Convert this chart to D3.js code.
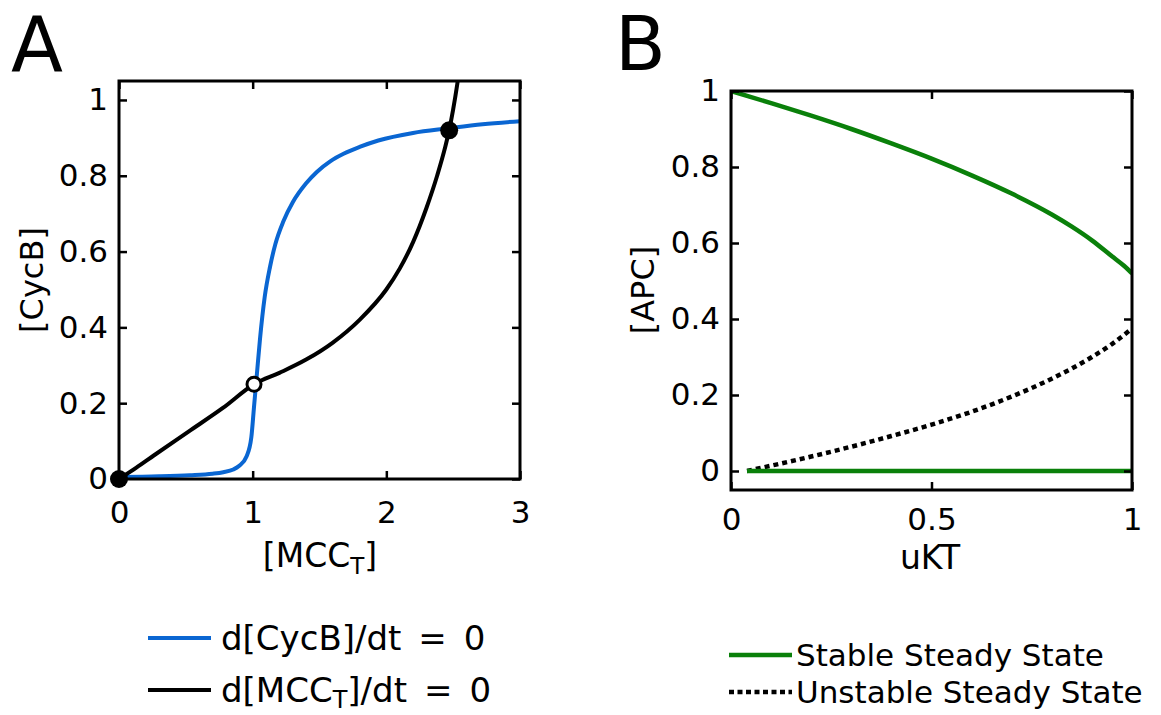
<!DOCTYPE html>
<html>
<head>
<meta charset="utf-8">
<script src="https://cdn.jsdelivr.net/npm/d3@7"></script>
<style>
  html, body { margin: 0; padding: 0; background: #fff; }
  svg { display: block; }
  text { font-family: "DejaVu Sans", sans-serif; fill: #000; }
</style>
</head>
<body>
<svg id="chart" width="1161" height="715"></svg>
<script>
// ---------- Panel A data ----------
const mccBlue = [0, 0.3, 0.53, 0.7, 0.78, 0.855, 0.9, 0.955, 0.99, 1.01, 1.03, 1.055, 1.09, 1.13, 1.17, 1.23, 1.30, 1.40, 1.48, 1.58, 1.68, 1.80, 1.94, 2.2, 2.46, 2.72, 3.0];
const cycBlue = [0.005, 0.007, 0.01, 0.014, 0.018, 0.025, 0.035, 0.06, 0.11, 0.19, 0.27, 0.37, 0.48, 0.56, 0.62, 0.68, 0.73, 0.78, 0.81, 0.838, 0.858, 0.876, 0.893, 0.913, 0.925, 0.936, 0.944];
const mccBlack = [0, 0.13, 0.26, 0.52, 0.78, 1.01, 1.2, 1.4, 1.6, 1.8, 2.0, 2.1, 2.2, 2.3, 2.38, 2.44, 2.47, 2.50, 2.53, 2.55];
const cycBlack = [0, 0.03, 0.062, 0.125, 0.188, 0.25, 0.28, 0.315, 0.36, 0.42, 0.50, 0.555, 0.625, 0.715, 0.80, 0.875, 0.92, 0.975, 1.04, 1.09];
const ssX = [0, 1.01, 2.47];
const ssY = [0, 0.25, 0.92];
const ssStable = [true, false, true];
const xTicksA = [0, 1, 2, 3];
const yTicksA = [0, 0.2, 0.4, 0.6, 0.8, 1];
const legendA = ["d[CycB]/dt\u2002=\u20020", "d[MCC|T]/dt\u2002=\u20020"];

// ---------- Panel B data ----------
const ukStableHi = [0, 0.1, 0.2, 0.3, 0.4, 0.5, 0.6, 0.7, 0.8, 0.85, 0.9, 0.95, 0.98, 1.0];
const apcStableHi = [1.0, 0.968, 0.935, 0.900, 0.862, 0.822, 0.778, 0.730, 0.675, 0.643, 0.607, 0.565, 0.54, 0.52];
const ukStableLo = [0.04, 1.0];
const apcStableLo = [0, 0];
const ukUnstable = [0.04, 0.1, 0.2, 0.3, 0.4, 0.5, 0.6, 0.7, 0.8, 0.9, 0.95, 1.0];
const apcUnstable = [0.0, 0.014, 0.038, 0.064, 0.092, 0.122, 0.156, 0.196, 0.243, 0.30, 0.334, 0.375];
const xTicksB = [0, 0.5, 1];
const yTicksB = [0, 0.2, 0.4, 0.6, 0.8, 1];
const legendB = ["Stable Steady State", "Unstable Steady State"];

const BLUE = "#0a66d2", GREEN = "#0a800a";

const svg = d3.select("#chart");

function frame(g, x, y, xt, yt, fmtX, fmtY, padX) {
  const [x0, x1] = x.range(), [y0, y1] = y.range();
  const fs = "31px";
  const ax = g.append("g").attr("transform", `translate(0,${y0})`)
    .call(d3.axisBottom(x).tickValues(xt).tickSizeInner(-8).tickSizeOuter(0).tickPadding(padX).tickFormat(fmtX));
  const axT = g.append("g").attr("transform", `translate(0,${y1})`)
    .call(d3.axisTop(x).tickValues(xt).tickSizeInner(-8).tickSizeOuter(0).tickFormat(""));
  const ay = g.append("g").attr("transform", `translate(${x0},0)`)
    .call(d3.axisLeft(y).tickValues(yt).tickSizeInner(-8).tickSizeOuter(0).tickPadding(11).tickFormat(fmtY));
  const ayR = g.append("g").attr("transform", `translate(${x1},0)`)
    .call(d3.axisRight(y).tickValues(yt).tickSizeInner(-8).tickSizeOuter(0).tickFormat(""));
  [ax, axT, ay, ayR].forEach(a => {
    a.select(".domain").remove();
    a.selectAll(".tick line").attr("stroke", "#000").attr("stroke-width", 2.5);
    a.selectAll(".tick text").style("font-family", "DejaVu Sans").style("font-size", fs).attr("fill", "#000");
  });
  g.append("rect").attr("x", x0).attr("y", y1).attr("width", x1 - x0).attr("height", y0 - y1)
    .attr("fill", "none").attr("stroke", "#000").attr("stroke-width", 3);
}

const fmtNum = d => d === 0 ? "0" : d3.format("~g")(d);

// ---------- Panel A ----------
const xA = d3.scaleLinear().domain([0, 3]).range([119, 520]);
const yA = d3.scaleLinear().domain([0, 1.05]).range([479, 81]);
const gA = svg.append("g");
svg.append("clipPath").attr("id", "clipA").append("rect")
  .attr("x", 119).attr("y", 81).attr("width", 401).attr("height", 398);

const lineA = d3.line().x(d => xA(d[0])).y(d => yA(d[1])).curve(d3.curveMonotoneX);
gA.append("path").datum(mccBlue.map((v, i) => [v, cycBlue[i]]))
  .attr("d", lineA).attr("fill", "none").attr("stroke", BLUE).attr("stroke-width", 4)
  .attr("clip-path", "url(#clipA)");
gA.append("path").datum(mccBlack.map((v, i) => [v, cycBlack[i]]))
  .attr("d", lineA).attr("fill", "none").attr("stroke", "#000").attr("stroke-width", 4)
  .attr("clip-path", "url(#clipA)");
frame(gA, xA, yA, xTicksA, yTicksA, fmtNum, fmtNum, 22);
gA.selectAll("circle.ss").data(ssX.map((v, i) => ({x: v, y: ssY[i], s: ssStable[i]})))
  .join("circle").attr("class", "ss")
  .attr("cx", d => xA(d.x)).attr("cy", d => yA(d.y))
  .attr("r", d => d.s ? 9 : 7)
  .attr("fill", d => d.s ? "#000" : "#fff")
  .attr("stroke", "#000").attr("stroke-width", d => d.s ? 0 : 3);

// axis titles A
const tA = gA.append("text").attr("x", 320).attr("y", 567).attr("text-anchor", "middle").style("font-size", "33px");
tA.append("tspan").text("[MCC");
tA.append("tspan").text("T").style("font-size", "23px").attr("dy", 7);
tA.append("tspan").text("]").attr("dy", -7);
gA.append("text").attr("transform", "translate(43,280) rotate(-90)").attr("text-anchor", "middle")
  .style("font-size", "32px").text("[CycB]");
svg.append("text").attr("x", 11).attr("y", 71).style("font-size", "76px").text("A");

// legend A
const legAColors = [BLUE, "#000"];
const legAY = [638, 690];
legendA.forEach((lab, i) => {
  svg.append("line").attr("x1", 148).attr("x2", 211).attr("y1", legAY[i]).attr("y2", legAY[i])
    .attr("stroke", legAColors[i]).attr("stroke-width", 4);
  const t = svg.append("text").attr("x", 221).attr("y", legAY[i] + 12).style("font-size", "34px");
  const parts = lab.split("|");
  if (parts.length === 1) {
    t.text(lab);
  } else {
    t.append("tspan").text(parts[0]);
    t.append("tspan").text(parts[1].charAt(0)).style("font-size", "24px").attr("dy", 6);
    t.append("tspan").text(parts[1].slice(1)).attr("dy", -6);
  }
});

// ---------- Panel B ----------
const xB = d3.scaleLinear().domain([0, 1]).range([731, 1132]);
const yB = d3.scaleLinear().domain([-0.05, 1]).range([490, 91]);
const gB = svg.append("g");
svg.append("clipPath").attr("id", "clipB").append("rect")
  .attr("x", 731).attr("y", 91).attr("width", 401).attr("height", 399);
const lineB = d3.line().x(d => xB(d[0])).y(d => yB(d[1])).curve(d3.curveMonotoneX);
gB.append("path").datum(ukUnstable.map((v, i) => [v, apcUnstable[i]]))
  .attr("d", lineB).attr("fill", "none").attr("stroke", "#000").attr("stroke-width", 4.5)
  .attr("stroke-dasharray", "5,4").attr("clip-path", "url(#clipB)");
gB.append("path").datum(ukStableLo.map((v, i) => [v, apcStableLo[i]]))
  .attr("d", lineB).attr("fill", "none").attr("stroke", GREEN).attr("stroke-width", 4.5)
  .attr("clip-path", "url(#clipB)");
gB.append("path").datum(ukStableHi.map((v, i) => [v, apcStableHi[i]]))
  .attr("d", lineB).attr("fill", "none").attr("stroke", GREEN).attr("stroke-width", 4.5)
  .attr("clip-path", "url(#clipB)");
frame(gB, xB, yB, xTicksB, yTicksB, fmtNum, fmtNum, 18);

gB.append("text").attr("x", 930).attr("y", 569).attr("text-anchor", "middle").style("font-size", "33px").text("uKT");
gB.append("text").attr("transform", "translate(654,290) rotate(-90)").attr("text-anchor", "middle")
  .style("font-size", "32px").text("[APC]");
svg.append("text").attr("x", 615).attr("y", 70).style("font-size", "74px").text("B");

// legend B
const legBY = [655, 692];
legendB.forEach((lab, i) => {
  const l = svg.append("line").attr("x1", 729).attr("x2", 792).attr("y1", legBY[i]).attr("y2", legBY[i])
    .attr("stroke", i === 0 ? GREEN : "#000").attr("stroke-width", 4.5);
  if (i === 1) l.attr("stroke-dasharray", "5,3.5");
  svg.append("text").attr("x", 796).attr("y", legBY[i] + 11).style("font-size", "31px").text(lab);
});
</script>
</body>
</html>
